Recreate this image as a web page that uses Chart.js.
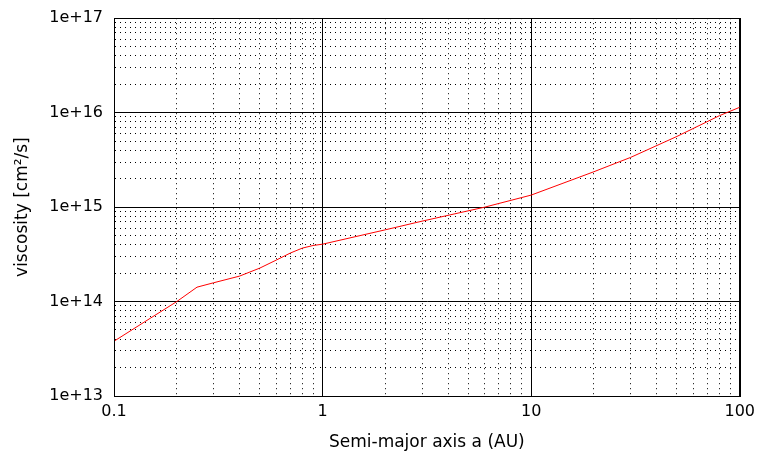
<!DOCTYPE html>
<html>

<head>
  <meta charset="UTF-8">
  <script src="https://cdn.jsdelivr.net/npm/chart.js"></script>
  <title>viscosity</title>
  <style>
    body { margin: 0; background: #fff; }
    #wrap { width: 761px; height: 460px; }
  </style>
</head>

<body>
  <div id="wrap">
    <canvas id="myChart" width="761" height="460"></canvas>
  </div>
</body>

</html>

<script>
  // semi-major axis (AU) and viscosity (cm^2/s)
  var semiMajor = [0.1, 0.15, 0.2, 0.25, 0.3, 0.4, 0.5, 0.6, 0.7, 0.8, 0.9, 1, 2, 3, 6, 10, 20, 30, 50, 80, 100];
  var viscosity = [3.8e13, 6.7e13, 1.0e14, 1.42e14, 1.58e14, 1.86e14, 2.26e14, 2.75e14, 3.26e14, 3.68e14, 3.92e14, 4.05e14,
    5.75e14, 7.1e14, 1.0e15, 1.34e15, 2.37e15, 3.36e15, 5.6e15, 9.3e15, 1.14e16];

  var xDecades = [0.1, 1, 10, 100];
  var yDecades = [1e13, 1e14, 1e15, 1e16, 1e17];
  var yLabels = ["1e+13", "1e+14", "1e+15", "1e+16", "1e+17"];

  Chart.defaults.font.family = "DejaVu Sans";
  Chart.defaults.font.size = 16;
  Chart.defaults.color = "#000";

  // 1..9 x each decade, the last decade alone
  function logTicks(decades) {
    var out = [];
    for (var i = 0; i < decades.length; i++) {
      if (i == decades.length - 1) {
        out.push({ value: decades[i] });
        break;
      }
      for (var k = 1; k < 10; k++) {
        out.push({ value: decades[i] * k });
      }
    }
    return out;
  }

  function isDecade(v, decades) {
    for (var i = 0; i < decades.length; i++) {
      if (Math.abs(v / decades[i] - 1) < 1e-6) return i;
    }
    return -1;
  }

  function gridDash(decades) {
    return function (ctx) {
      if (!ctx.tick) return [];
      return isDecade(ctx.tick.value, decades) >= 0 ? [] : [1, 4];
    };
  }

  var points = [];
  for (var i = 0; i < semiMajor.length; i++) {
    points.push({ x: semiMajor[i], y: viscosity[i] });
  }

  const config = {
    type: 'line',
    data: {
      datasets: [{
        data: points,
        borderColor: 'rgb(255, 0, 0)',
        borderWidth: 1,
        pointRadius: 0,
        tension: 0,
        fill: false
      }]
    },
    options: {
      responsive: false,
      animation: false,
      layout: { padding: { left: 0, right: 21, top: 18, bottom: 0 } },
      plugins: { legend: { display: false }, tooltip: { enabled: false } },
      scales: {
        x: {
          type: 'logarithmic',
          min: 0.1,
          max: 100,
          afterBuildTicks: function (scale) { scale.ticks = logTicks(xDecades); },
          afterFit: function (scale) { scale.height = 64; },
          ticks: {
            autoSkip: false,
            maxRotation: 0,
            padding: 6,
            callback: function (v) {
              var i = isDecade(v, xDecades);
              return i >= 0 ? String(xDecades[i]) : "";
            }
          },
          grid: { color: "#000", lineWidth: 1, drawTicks: false },
          border: { color: "#000", width: 1, dash: gridDash(xDecades) },
          title: { display: true, text: "Semi-major axis a (AU)", font: { size: 17 }, padding: { top: 4, bottom: 7 } }
        },
        y: {
          type: 'logarithmic',
          min: 1e13,
          max: 1e17,
          afterBuildTicks: function (scale) { scale.ticks = logTicks(yDecades); },
          afterFit: function (scale) { scale.width = 114; },
          ticks: {
            autoSkip: false,
            padding: 11,
            font: { lineHeight: 0.9 },
            callback: function (v) {
              var i = isDecade(v, yDecades);
              return i >= 0 ? yLabels[i] : "";
            }
          },
          grid: { color: "#000", lineWidth: 1, drawTicks: false },
          border: { color: "#000", width: 1, dash: gridDash(yDecades) },
          title: { display: true, text: "viscosity [cm²/s]", font: { size: 17 }, padding: { top: 12, bottom: 4 } }
        }
      }
    },
    plugins: [{
      id: 'frame',
      afterDraw: function (chart) {
        var a = chart.chartArea, c = chart.ctx;
        c.save();
        c.strokeStyle = "#000";
        c.lineWidth = 1;
        c.strokeRect(Math.round(a.left) + 0.5, Math.round(a.top) + 0.5, Math.round(a.right - a.left), Math.round(a.bottom - a.top));
        c.restore();
      }
    }]
  };

  const myChart = new Chart(document.getElementById('myChart'), config);
</script>
